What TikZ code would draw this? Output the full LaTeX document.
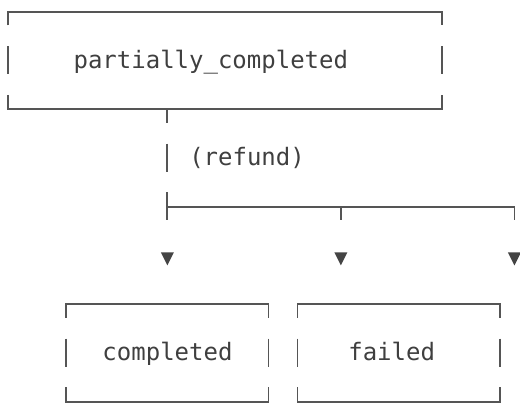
\documentclass[tikz,border=0pt]{standalone}
\usepackage{fontspec}
\newfontfamily\boxmono{DejaVu Sans Mono}
\definecolor{linegray}{HTML}{555555}
\definecolor{textgray}{HTML}{3F3F3F}
\definecolor{tipgray}{HTML}{444444}
% character grid: column centres and row middles (1 unit = 1pt)
\newcommand\gx[1]{8.3+14.46*(#1)}
\newcommand\gy[1]{-11.7-48.75*(#1)}
\def\dn{13.7}
\def\up{14.3}
% a three-row box drawn from box characters: columns #1..#2, first row #3
\newcommand\asciibox[3]{%
  \draw[rule] ({\gx{#1}},{\gy{#3}-\dn}) -- ({\gx{#1}},{\gy{#3}}) -- ({\gx{#2}},{\gy{#3}}) -- ({\gx{#2}},{\gy{#3}-\dn});
  \draw[rule] ({\gx{#1}},{\gy{#3+1}+\up}) -- ({\gx{#1}},{\gy{#3+1}-\dn});
  \draw[rule] ({\gx{#2}},{\gy{#3+1}+\up}) -- ({\gx{#2}},{\gy{#3+1}-\dn});
  \draw[rule] ({\gx{#1}},{\gy{#3+2}+\up}) -- ({\gx{#1}},{\gy{#3+2}}) -- ({\gx{#2}},{\gy{#3+2}}) -- ({\gx{#2}},{\gy{#3+2}+\up});
}
\begin{document}
\begin{tikzpicture}[x=1pt,y=1pt,
  rule/.style={draw=linegray, line width=1.8pt},
  label/.style={inner sep=0pt, anchor=base west, text=textgray,
    font=\boxmono\fontsize{24}{28}\selectfont},
  tip/.style={fill=tipgray, draw=none}]
\useasboundingbox (0,0) rectangle (520,-406);

% boxes
\asciibox{0}{30}{0}
\asciibox{4}{18}{6}
\asciibox{20}{34}{6}

% labels (text baseline sits 8pt below the row middle)
\node[label] (pc) at ({\gx{4.5}},{\gy{1}-8}) {partially\_completed};
\node[label] (rf) at ({\gx{12.5}},{\gy{3}-8}) {(refund)};
\node[label] (cp) at ({\gx{6.5}},{\gy{7}-8}) {completed};
\node[label] (fl) at ({\gx{23.5}},{\gy{7}-8}) {failed};

% trunk and branch points
\coordinate (s0) at ({\gx{11}},{\gy{2}});
\coordinate (s1) at ({\gx{11}},{\gy{3}});
\coordinate (b0) at ({\gx{11}},{\gy{4}});
\coordinate (b1) at ({\gx{23}},{\gy{4}});
\coordinate (b2) at ({\gx{35}},{\gy{4}});
\coordinate (a0) at ({\gx{11}},{\gy{5}+3});
\coordinate (a1) at ({\gx{23}},{\gy{5}+3});
\coordinate (a2) at ({\gx{35}},{\gy{5}+3});

% connector under the top box
\draw[rule] (s0) -- ([yshift=-\dn pt]s0);
\draw[rule] ([yshift=\up pt]s1) -- ([yshift=-\dn pt]s1);
\draw[rule] ([yshift=\up pt]b0) -- ([yshift=-\dn pt]b0);
\draw[rule] (b0) -- (b2) -- ([yshift=-\dn pt]b2);
\draw[rule] (b1) -- ([yshift=-\dn pt]b1);

% arrow heads
\foreach \a in {a0,a1,a2}
  \fill[tip] ([xshift=-6.5pt]\a) -- ([xshift=6.5pt]\a) -- ([yshift=-13pt]\a) -- cycle;
\end{tikzpicture}
\end{document}
